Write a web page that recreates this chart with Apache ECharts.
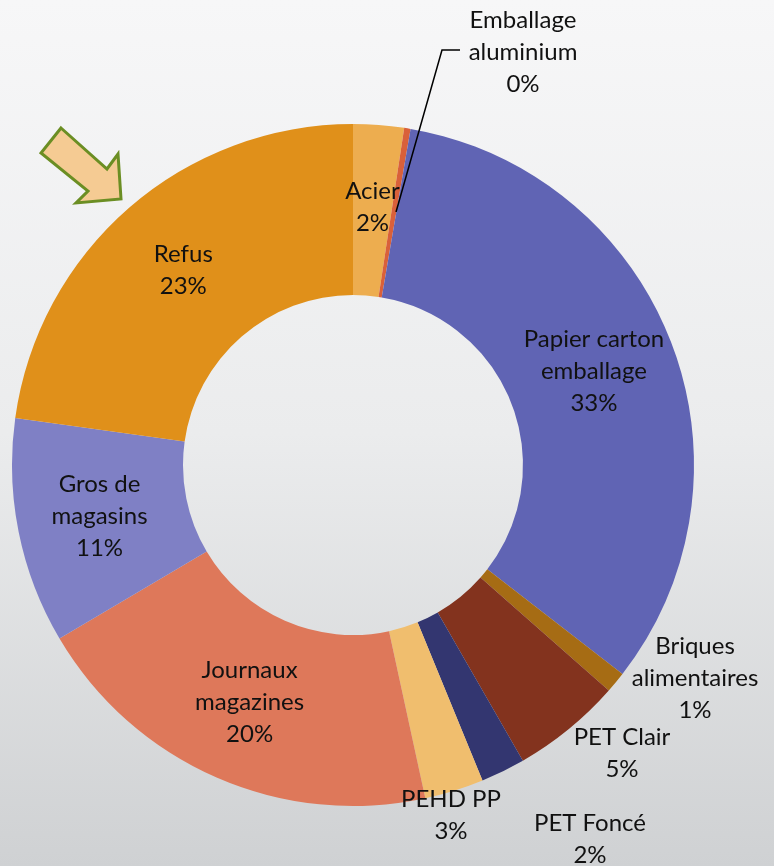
<!DOCTYPE html>
<html>
<head>
<meta charset="utf-8">
<script src="https://cdn.jsdelivr.net/npm/echarts@6/dist/echarts.min.js"></script>
<style>
  html, body { margin: 0; padding: 0; }
  #chart { width: 774px; height: 866px; }
</style>
</head>
<body>
<div id="chart"></div>
<script>
// catégories dans l'ordre horaire depuis midi
const categories = [
  'Acier', 'Emballage\naluminium', 'Papier carton\nemballage', 'Briques\nalimentaires',
  'PET Clair', 'PET Foncé', 'PEHD PP', 'Journaux\nmagazines', 'Gros de\nmagasins', 'Refus'
];
const values = [2.4, 0.3, 32.8, 1.0, 5.2, 2.1, 2.8, 19.9, 10.7, 22.8];
const colors = [
  '#EDAD4F', '#D9603A', '#6064B4', '#A66C14', '#83331E',
  '#333670', '#F0BE6E', '#DE785A', '#7F80C5', '#E0901A'
];
// étiquettes posées à l'extérieur (comme dans Excel)
const outsideLabels = {
  1: { x: 523, y: 52 },
  3: { x: 695, y: 678 },
  4: { x: 622, y: 753 },
  5: { x: 590, y: 839 },
  6: { x: 451, y: 815 }
};
// trait de rappel de l'étiquette aluminium
const leaderLine = [[396, 212], [442, 50], [460, 50]];

const chart = echarts.init(document.getElementById('chart'));

const data = categories.map(function (name, i) {
  const item = { name: name, value: values[i], itemStyle: { color: colors[i] } };
  if (outsideLabels[i]) {
    item.label = { position: 'outside' };
    item.labelLine = { show: false };
  }
  return item;
});

chart.setOption({
  backgroundColor: {
    type: 'linear', x: 0, y: 0, x2: 0, y2: 1,
    colorStops: [
      { offset: 0, color: '#f7f7f8' },
      { offset: 0.5, color: '#ebeced' },
      { offset: 1, color: '#cfd1d3' }
    ]
  },
  graphic: [{
    type: 'polygon',
    shape: {
      points: [[61, 128], [107, 169], [118, 154], [121, 199], [76, 203], [88, 191], [41, 153]]
    },
    style: { fill: '#F5CB93', stroke: '#6B8E23', lineWidth: 3 }
  }, {
    type: 'polyline',
    z: 100,
    shape: { points: leaderLine },
    style: { stroke: '#000', lineWidth: 1.5, fill: null }
  }],
  series: [{
    type: 'pie',
    center: [353, 465],
    radius: [170, 341],
    startAngle: 90,
    clockwise: true,
    avoidLabelOverlap: false,
    label: {
      show: true,
      position: 'inside',
      color: '#111',
      fontFamily: 'Lato',
      fontSize: 24,
      lineHeight: 32,
      align: 'center',
      formatter: function (p) {
        return p.name + '\n' + Math.round(p.value) + '%';
      }
    },
    labelLayout: function (params) {
      const o = outsideLabels[params.dataIndex];
      if (!o) return {};
      return { x: o.x, y: o.y, align: 'center', verticalAlign: 'middle' };
    },
    emphasis: { disabled: true },
    data: data
  }]
});
</script>
</body>
</html>
